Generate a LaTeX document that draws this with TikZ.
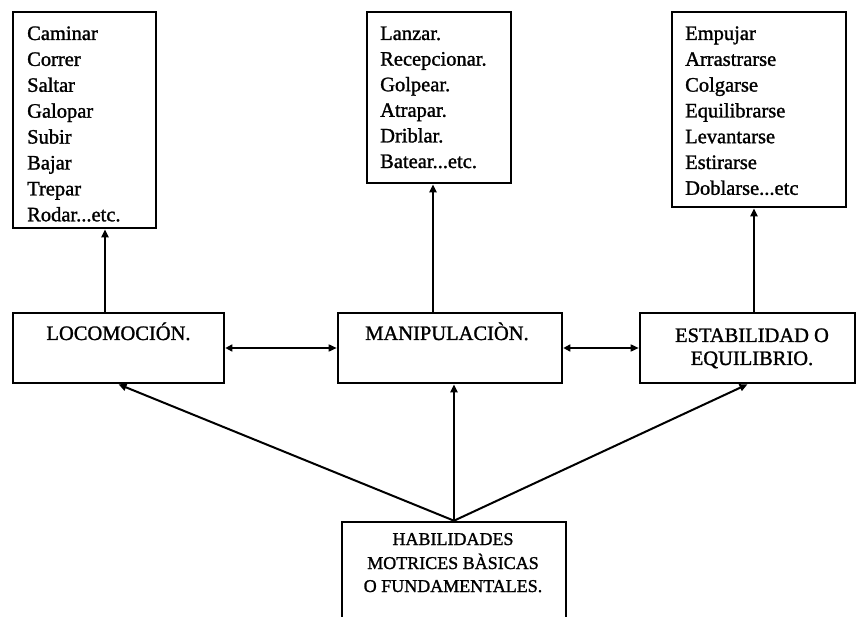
\documentclass[tikz,border=0pt]{standalone}
\usepackage{fontspec}
\setmainfont[FakeBold=1.3]{Liberation Serif}
\usetikzlibrary{arrows.meta}
\tikzset{
  box/.style={draw, line width=2.6pt, inner sep=0pt, fill=white},
  listtxt/.style={anchor=base west, inner sep=0pt, font=\fontsize{20.5}{26}\selectfont},
  lvltxt/.style={anchor=base, inner sep=0pt, font=\fontsize{20.5}{23}\selectfont},
  bottxt/.style={anchor=base, inner sep=0pt, font=\fontsize{18}{23}\selectfont},
  conn/.style={line width=2pt, -{Triangle[length=8pt,width=7pt]}},
  dconn/.style={line width=1.6pt, {Triangle[length=7pt,width=7pt]}-{Triangle[length=8pt,width=7pt]}}
}
\begin{document}
\begin{tikzpicture}[x=1pt,y=-1pt]
\useasboundingbox[fill=white] (0,0) rectangle (857,617);
% list boxes
\node[box, minimum width=143pt, minimum height=216pt] (l1) at (84.5,120) {};
\node[box, minimum width=144pt, minimum height=171pt] (l2) at (439,97.5) {};
\node[box, minimum width=174pt, minimum height=195pt] (l3) at (759,109.5) {};
% level boxes
\node[box, minimum width=211pt, minimum height=70pt] (loc) at (118.5,348) {};
\node[box, minimum width=224pt, minimum height=70pt] (man) at (450,348) {};
\node[box, minimum width=215pt, minimum height=70pt] (est) at (747.5,348) {};
% bottom box
\node[box, minimum width=224pt, minimum height=118pt] (bot) at (454,581) {};
% list texts
\node[listtxt] (a0) at (27,40.0) {Caminar};
\node[listtxt] (a1) at (27,65.9) {Correr};
\node[listtxt] (a2) at (27,91.8) {Saltar};
\node[listtxt] (a3) at (27,117.7) {Galopar};
\node[listtxt] (a4) at (27,143.6) {Subir};
\node[listtxt] (a5) at (27,169.5) {Bajar};
\node[listtxt] (a6) at (27,195.4) {Trepar};
\node[listtxt] (a7) at (27,221.3) {Rodar...etc.};
\node[listtxt] (b0) at (380,40.0) {Lanzar.};
\node[listtxt] (b1) at (380,65.6) {Recepcionar.};
\node[listtxt] (b2) at (380,91.2) {Golpear.};
\node[listtxt] (b3) at (380,116.8) {Atrapar.};
\node[listtxt] (b4) at (380,142.4) {Driblar.};
\node[listtxt] (b5) at (380,168.0) {Batear...etc.};
\node[listtxt] (c0) at (685,40.0) {Empujar};
\node[listtxt] (c1) at (685,65.8) {Arrastrarse};
\node[listtxt] (c2) at (685,91.6) {Colgarse};
\node[listtxt] (c3) at (685,117.4) {Equilibrarse};
\node[listtxt] (c4) at (685,143.2) {Levantarse};
\node[listtxt] (c5) at (685,169.0) {Estirarse};
\node[listtxt] (c6) at (685,194.8) {Doblarse...etc};
% level texts
\node[lvltxt] (loct) at (118.5,340) {LOCOMOCIÓN.};
\node[lvltxt] (mant) at (447,340) {MANIPULACIÒN.};
\node[lvltxt] (estt1) at (752,342) {ESTABILIDAD O};
\node[lvltxt] (estt2) at (752,365) {EQUILIBRIO.};
% bottom texts
\node[bottxt] (bt1) at (453,545) {HABILIDADES};
\node[bottxt] (bt2) at (453,569) {MOTRICES BÀSICAS};
\node[bottxt] (bt3) at (453,592) {O FUNDAMENTALES.};
% connectors
\coordinate (p1) at (105,313);
\coordinate (p2) at (433,313);
\coordinate (p3) at (754,313);
\draw[conn] (p1) -- (p1 |- l1.south);
\draw[conn] (p2) -- (p2 |- l2.south);
\draw[conn] (p3) -- (p3 |- l3.south);
\draw[dconn] (loc.east) -- (man.west);
\draw[dconn] (man.east) -- (est.west);
\draw[conn] (bot.north) -- (loc.south);
\draw[conn] (bot.north) -- (bot.north |- man.south);
\draw[conn] (bot.north) -- (est.south);
\end{tikzpicture}
\end{document}
